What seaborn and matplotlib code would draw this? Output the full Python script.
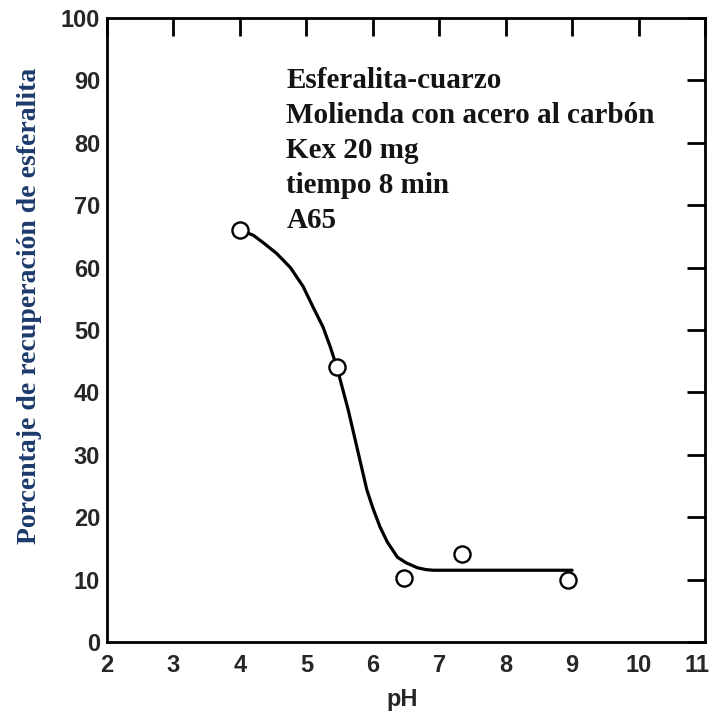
import matplotlib
matplotlib.use("Agg")
import matplotlib.pyplot as plt
import matplotlib.transforms as mtransforms
import seaborn as sns
import pandas as pd

# Measured recovery of sphalerite vs pH
ph_values = [4.0, 5.46, 6.47, 7.35, 8.94]
recovery = [66.0, 44.0, 10.3, 14.1, 9.9]

# Hand-drawn trend curve through the measurements
curve_ph = [4.0, 4.2, 4.35, 4.55, 4.76, 4.95, 5.1, 5.25, 5.36, 5.46, 5.63, 5.77,
            5.91, 6.0, 6.11, 6.22, 6.37, 6.5, 6.67, 6.8, 6.91, 7.5, 8.0, 9.0]
curve_rec = [66.0, 65.2, 64.0, 62.3, 60.0, 57.0, 53.7, 50.5, 47.3, 44.0, 37.2, 30.8,
             24.4, 21.5, 18.4, 16.0, 13.6, 12.7, 11.9, 11.6, 11.5, 11.5, 11.5, 11.5]

x_ticks = [2, 3, 4, 5, 6, 7, 8, 9, 10, 11]
y_ticks = [0, 10, 20, 30, 40, 50, 60, 70, 80, 90, 100]

notes = ["Esferalita-cuarzo", "Molienda con acero al carbón", "Kex 20 mg",
         "tiempo 8 min", "A65"]

sns.set_theme(style="white")
plt.rcParams["font.family"] = ["Liberation Sans", "DejaVu Sans"]

fig = plt.figure(figsize=(7.14, 7.15), dpi=100)
ax = fig.add_axes([0.1499, 0.1021, 0.8375, 0.8727])

df_pts = pd.DataFrame({"pH": ph_values, "rec": recovery})
df_curve = pd.DataFrame({"pH": curve_ph, "rec": curve_rec})

sns.lineplot(data=df_curve, x="pH", y="rec", ax=ax, color="black", lw=2.3,
             sort=False, zorder=2)
sns.scatterplot(data=df_pts, x="pH", y="rec", ax=ax, s=135, marker="o",
                facecolor="white", edgecolor="black", linewidth=1.7, zorder=3)

ax.set_xlim(2, 11)
ax.set_ylim(0, 100)
ax.set_xticks(x_ticks)
ax.set_yticks(y_ticks)
ax.set_xticklabels([str(t) for t in x_ticks], fontsize=17, fontweight="bold")
ax.set_yticklabels([str(t) for t in y_ticks], fontsize=17, fontweight="bold")
ax.tick_params(axis="both", direction="in", length=13, width=2, color="black",
               top=True, right=True, pad=5)
ax.tick_params(axis="x", pad=9)
for sp in ax.spines.values():
    sp.set_visible(True)
    sp.set_color("black")
    sp.set_linewidth(2.0)

# keep the last x label inside the canvas
last = ax.get_xticklabels()[-1]
last.set_transform(last.get_transform() +
                   mtransforms.ScaledTranslation(-8 / 100, 0, fig.dpi_scale_trans))

ax.set_xlabel("")
ax.set_ylabel("")
fig.text(0.563, 0.006, "pH", ha="center", va="bottom", fontsize=17,
         fontweight="bold")
fig.text(0.042, 0.572, "Porcentaje de recuperación de esferalita",
         rotation=90, ha="center", va="center", fontsize=20,
         fontweight="bold", color="#1c3a6b", family="Liberation Serif")

y0 = 0.888
for i, line in enumerate(notes):
    fig.text(0.401, y0 - i * 0.049, line, ha="left", va="center", fontsize=21,
             fontweight="bold", color="#141414", family="Liberation Serif")

fig.savefig("out.png", dpi=100, facecolor="white")
